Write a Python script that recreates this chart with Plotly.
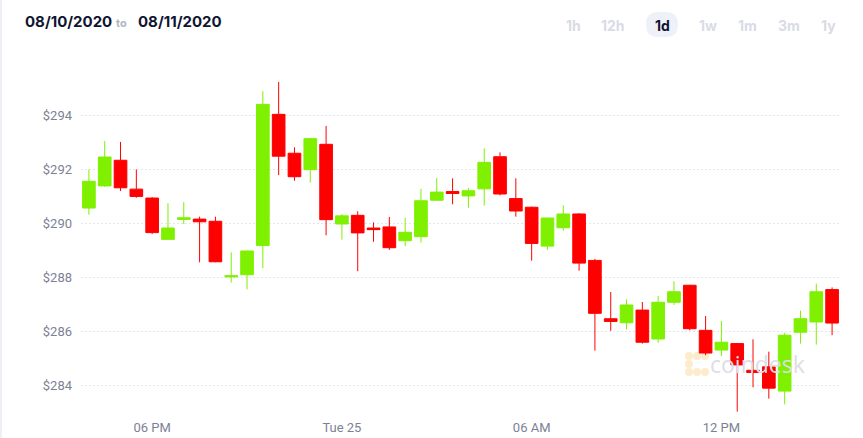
import plotly.graph_objects as go
import pandas as pd

# ---- data (30-minute candles) ----
start_time = "2020-08-24 16:00"
open_ = [290.58, 291.40, 292.35, 291.28, 290.95, 289.42, 290.16, 290.17, 290.09, 288.03,
         288.11, 289.19, 294.05, 292.61, 292.00, 292.94, 289.99, 290.31, 289.84, 289.88,
         289.37, 289.52, 290.87, 291.19, 291.03, 291.29, 292.48, 290.93, 290.61, 289.17,
         289.85, 290.36, 288.64, 286.48, 286.33, 286.80, 285.73, 287.09, 287.72, 286.05,
         285.32, 285.56, 284.57, 284.70, 283.80, 285.98, 286.36, 287.56]
high = [292.01, 293.06, 293.03, 292.01, 290.98, 290.76, 290.80, 290.26, 290.26, 288.94,
        289.00, 294.91, 295.25, 292.83, 293.18, 293.62, 290.36, 290.46, 290.05, 290.25,
        290.22, 291.29, 291.69, 291.68, 291.32, 292.79, 292.64, 291.68, 290.63, 290.22,
        290.68, 290.39, 288.70, 287.47, 287.20, 287.10, 287.32, 287.87, 287.74, 286.58,
        286.40, 285.58, 285.72, 285.26, 285.96, 286.78, 287.78, 287.64]
low = [290.33, 291.36, 291.21, 290.96, 289.62, 289.40, 289.99, 288.57, 288.57, 287.82,
       287.57, 288.35, 291.80, 291.59, 291.52, 289.57, 289.41, 288.24, 289.33, 289.03,
       289.17, 289.30, 290.85, 290.72, 290.59, 290.67, 291.05, 290.26, 288.63, 289.03,
       289.74, 288.26, 285.30, 286.03, 286.09, 285.56, 285.59, 286.99, 286.05, 285.13,
       285.10, 283.04, 283.94, 283.52, 283.31, 285.56, 285.52, 285.87]
close = [291.57, 292.47, 291.33, 291.01, 289.67, 289.84, 290.22, 290.07, 288.59, 288.07,
         288.99, 294.42, 292.50, 291.74, 293.15, 290.15, 290.29, 289.66, 289.78, 289.11,
         289.68, 290.85, 291.17, 291.12, 291.22, 292.27, 291.10, 290.47, 289.27, 290.21,
         290.36, 288.54, 286.68, 286.38, 286.99, 285.61, 287.09, 287.48, 286.11, 285.21,
         285.61, 284.77, 284.49, 283.91, 285.87, 286.48, 287.48, 286.32]

x_tick_vals = ["2020-08-24 18:00", "2020-08-25 00:00", "2020-08-25 06:00", "2020-08-25 12:00"]
x_tick_text = ["06 PM", "Tue 25", "06 AM", "12 PM"]
y_tick_vals = [284, 286, 288, 290, 292, 294]
y_tick_text = ["$284", "$286", "$288", "$290", "$292", "$294"]
range_buttons = ["1h", "12h", "1d", "1w", "1m", "3m", "1y"]
active_button = "1d"
date_from = "08/10/2020"
date_to = "08/11/2020"

times = pd.date_range(start_time, periods=len(open_), freq="30min")

W, H = 863, 438
L, R, T, B = 81, 840, 70, 414


def px(xp):
    return (xp - L) / (R - L)


def py(yp):
    return (B - yp) / (B - T)


GREEN = "#7ff000"
RED = "#ff0000"

fig = go.Figure()
fig.add_trace(go.Candlestick(
    x=times, open=open_, high=high, low=low, close=close,
    increasing=dict(fillcolor=GREEN, line=dict(color=GREEN, width=1)),
    decreasing=dict(fillcolor=RED, line=dict(color=RED, width=1)),
    whiskerwidth=0, showlegend=False, hoverinfo="skip",
))

x_start = times[0] - pd.Timedelta(minutes=15)
x_end = times[-1] + pd.Timedelta(minutes=15)

font_axis = dict(family="Roboto, sans-serif", size=13, color="#7d8195")

fig.update_layout(
    width=W, height=H,
    margin=dict(l=L, r=W - R, t=T, b=H - B, pad=0, autoexpand=False),
    paper_bgcolor="white", plot_bgcolor="white",
    showlegend=False,
    boxgap=0.2, boxgroupgap=0,
    xaxis=dict(
        type="date", range=[x_start, x_end],
        rangeslider=dict(visible=False),
        showgrid=False, zeroline=False, showline=False,
        tickmode="array", tickvals=x_tick_vals, ticktext=x_tick_text,
        tickfont=font_axis, ticks="", ticklabelstandoff=4, automargin=False,
    ),
    yaxis=dict(
        range=[294 - (B - 115.7) / 27, 294 + (115.7 - T) / 27],
        showgrid=True, gridcolor="#e4e6ef", gridwidth=1, griddash="2px,2px",
        zeroline=False, showline=False,
        tickmode="array", tickvals=y_tick_vals, ticktext=y_tick_text,
        tickfont=font_axis, ticks="", ticklabelstandoff=8, automargin=False,
        layer="above traces",
    ),
)

shapes = []
# light left border strip
shapes.append(dict(type="rect", xref="paper", yref="paper",
                   x0=px(0), x1=px(2), y0=py(H), y1=py(0),
                   fillcolor="#eef0f6", line=dict(width=0), layer="below"))

# pill behind active button (rounded rect via path)
bx0, bx1, by0, by1, r = 646, 678, 12, 37, 12
def P(xp, yp):
    return f"{px(xp)},{py(yp)}"
path = (f"M {P(bx0 + r, by0)} L {P(bx1 - r, by0)} Q {P(bx1, by0)} {P(bx1, (by0 + by1) / 2)} "
        f"Q {P(bx1, by1)} {P(bx1 - r, by1)} L {P(bx0 + r, by1)} "
        f"Q {P(bx0, by1)} {P(bx0, (by0 + by1) / 2)} Q {P(bx0, by0)} {P(bx0 + r, by0)} Z")
shapes.append(dict(type="path", xref="paper", yref="paper", path=path,
                   fillcolor="#eff1f8", line=dict(width=0), layer="below"))

# watermark icon (dots forming a "C")
icon_col = "#fdebcb"
for cx, cy in [(689, 356), (697, 356), (705, 356), (689, 364), (689, 372), (697, 372), (705, 372)]:
    shapes.append(dict(type="circle", xref="paper", yref="paper",
                       x0=px(cx - 4), x1=px(cx + 4), y0=py(cy + 4), y1=py(cy - 4),
                       fillcolor=icon_col, line=dict(width=0), layer="below"))
fig.update_layout(shapes=shapes)

ann = []
ann.append(dict(text=f"<b>{date_from}</b>", x=px(23), y=py(21.5), xref="paper", yref="paper",
                xanchor="left", yanchor="middle", showarrow=False,
                font=dict(family="Inter, sans-serif", size=15, color="#0f1531")))
ann.append(dict(text="<b>to</b>", x=px(121), y=py(23), xref="paper", yref="paper",
                xanchor="center", yanchor="middle", showarrow=False,
                font=dict(family="Inter, sans-serif", size=11, color="#b0b3c0")))
ann.append(dict(text=f"<b>{date_to}</b>", x=px(136), y=py(21.5), xref="paper", yref="paper",
                xanchor="left", yanchor="middle", showarrow=False,
                font=dict(family="Inter, sans-serif", size=15, color="#0f1531")))

btn_centers = [573, 613, 662, 707.5, 747.5, 789, 828]
for lab, cx in zip(range_buttons, btn_centers):
    col = "#0f1531" if lab == active_button else "#d9dbe6"
    ann.append(dict(text=f"<b>{lab}</b>", x=px(cx), y=py(25.5), xref="paper", yref="paper",
                    xanchor="center", yanchor="middle", showarrow=False,
                    font=dict(family="Inter, sans-serif", size=14, color=col)))

ann.append(dict(text="coindesk", x=px(757), y=py(364), xref="paper", yref="paper",
                xanchor="center", yanchor="middle", showarrow=False,
                font=dict(family="Open Sans, sans-serif", size=23, color="#dcdee5")))
fig.update_layout(annotations=ann)

fig.write_html("out.html")
